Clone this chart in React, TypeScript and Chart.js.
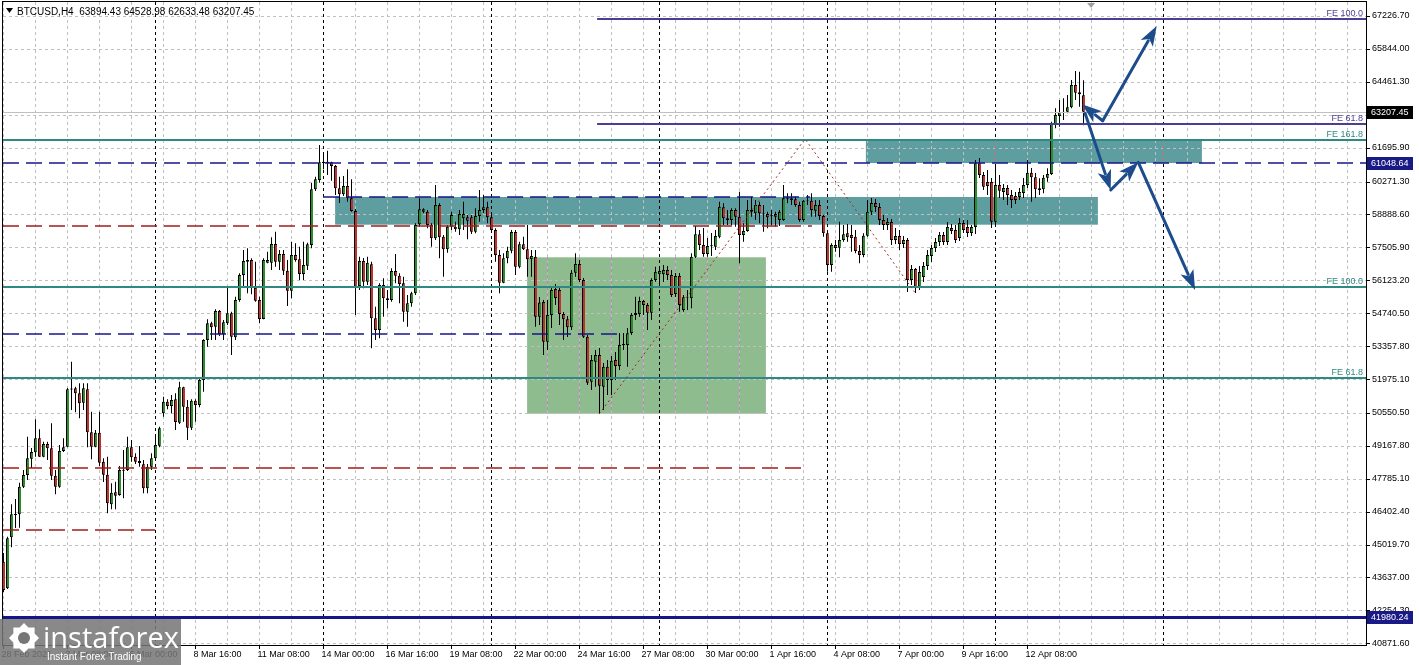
import React, { useEffect, useRef } from 'react';
import { Chart, registerables } from 'chart.js';
Chart.register(...registerables);

// ---------- candle data (BTCUSD, H4; bar 0 = 28 Feb 16:00) ----------
const opens = [
44300,43183,45325,46262,46292,47451,47943,48628,48897,49485,48712,49245,49065,47913,47451,48951,49132,51568,51585,51375,
50980,51543,49737,49132,49720,48502,47955,46712,47216,47103,48132,48153,49107,48712,48531,48392,47384,48291,48644,49174,
50535,51022,50842,51123,50140,51627,50812,49930,51064,50884,51934,53615,54316,54173,54833,53854,54316,54736,53728,55295,
56345,56976,56976,55812,55295,54497,56862,56862,57648,56904,57228,56526,55686,57186,57005,56387,56736,57606,59946,60337,
61106,61106,61080,60925,59988,59736,60085,59568,59034,55883,56934,56064,56795,54526,54035,55925,55367,55295,56514,56316,
55997,54804,55157,55577,58476,59106,59005,58446,57887,59286,57955,57425,58375,58265,58265,58728,58770,58770,58165,58824,
59076,59190,58770,58236,57186,56022,57047,57366,58152,56694,57635,57425,57005,57114,54594,55211,53543,54665,55757,55715,
54707,54484,54148,56442,56808,56135,53753,51863,52703,52984,51653,52493,51934,52774,52522,53404,53404,53909,54665,54707,
55253,55085,54761,56135,56375,56375,56556,56345,55547,56303,54875,55409,55367,57114,58055,57606,57228,57564,57534,57955,
59190,58728,58656,59076,58795,58026,58194,59005,58938,59286,58938,58908,58866,58908,58656,58656,59568,59568,59526,59286,
58656,59467,59467,59047,59286,58824,58097,56766,57606,57493,57816,58097,58026,57955,57354,57186,57996,59005,59370,59202,
58656,58446,58572,57816,57984,57648,57816,56135,56597,55854,56261,56724,57144,57480,57732,58026,57732,58320,58236,57900,
58530,58362,58110,58362,61038,60547,60253,60253,58585,60127,59832,60001,59707,59665,59622,59790,60127,60643,60450,59988,
59946,60433,60589,62689,63026,63164,63206,63391,64328,64021,63894.43];
const highs = [
44666,45351,46712,46934,47619,48153,49552,49077,50283,49863,49342,49342,50115,48153,49203,49485,51598,52703,51653,51795,
51795,51795,50602,49833,50602,48644,48712,47594,47661,48321,48993,49552,49413,48854,49161,48573,48405,48854,49665,49972,
51232,51123,51304,51375,51863,51653,51094,51123,51123,52005,53644,54484,54383,54904,54875,54455,55829,54804,55434,56417,
57396,57467,57047,56904,55434,57047,57324,57929,58165,57396,57396,56976,57745,57677,57534,57745,57702,60211,60475,61807,
61458,61568,61106,60967,60475,60505,60786,60366,59118,57114,57060,57114,56904,55014,55997,56207,55715,56627,57228,56417,
56274,55505,55644,58518,59568,59148,59076,58518,60127,59358,58026,58446,59005,58585,59076,59425,58866,58866,59148,59917,
59707,59425,58866,58307,57396,57257,57534,58236,58236,57745,57955,58446,57396,57396,55421,55295,55295,55854,55967,55883,
54791,54623,56556,57257,56976,56219,53825,52984,53194,53278,52648,52774,52942,53110,53909,53909,54119,54749,55434,55434,
55295,55169,56207,56694,56694,56766,56724,56556,56430,56430,55505,55715,57257,58404,58236,58320,57900,58110,58236,59425,
59358,59076,59148,59148,59845,58518,59497,59635,59497,59425,59286,59005,59076,59005,59076,60127,59778,59778,59635,59425,
59497,59707,59778,59497,59497,58866,58165,57677,57816,58585,58446,58488,58446,58236,57606,58097,59497,59580,59538,59370,
58866,58740,58698,58320,58236,57984,57900,56766,56640,56724,56892,57396,57606,57900,58152,58152,58572,58488,58446,58740,
58656,58656,58446,61177,61261,60673,60757,60421,60967,60547,60169,60127,59917,59832,60001,60421,61177,60841,60631,60408,
60547,60828,62786,63349,63698,63769,63908,64538,64916,64887,64528.98];
const lows = [
43027,43153,44905,45716,45729,47397,47733,48237,48712,48699,48686,48573,47733,47132,47409,48909,49107,50674,50577,50325,
50674,49107,48602,49107,48321,47649,46334,46502,46502,47073,46964,48111,48502,48405,48291,47174,47174,48153,48573,49107,
50392,50703,50535,49833,50085,50182,49413,49833,50182,50787,51443,53333,53615,53615,53783,53615,54245,52984,53615,55224,
55829,55577,55535,55224,54316,54484,56837,56556,56694,56556,56345,55043,55367,56904,56135,56135,56556,57467,59874,60223,
60786,60547,60307,59707,59370,59665,59425,59005,54665,55715,55787,55925,53266,53615,53686,54594,54946,55224,55997,55157,
54383,54173,55014,55505,58375,58938,58307,57534,57816,57047,56274,57282,58236,58165,58026,58236,57845,58068,58097,58585,
58938,58518,58207,56904,55577,55997,56837,57257,56345,56627,57396,56274,56274,54173,54245,52984,53194,54119,55085,54245,
53615,53741,54035,56274,56051,53699,51724,51514,51653,50506,50674,51304,51304,51934,52354,53194,52493,53825,54455,54594,
54665,54035,54455,56064,55925,56051,56135,55421,55421,54804,54804,54875,54946,57060,57396,57114,57114,57144,57396,57887,
58446,58446,58446,58375,56837,57745,58165,58795,58656,58518,58165,58307,58446,58375,58404,58627,59358,59286,59215,58585,
58585,59286,58795,58795,58656,57955,56484,56484,57324,57089,57745,57745,57324,57257,56837,57089,57955,58866,58992,58446,
58236,58236,57606,57648,57396,57480,55631,55925,55589,55715,56051,56556,56892,57312,57564,57606,57606,58068,57690,57774,
58110,57942,57984,58068,60421,59917,59707,58320,58446,59580,59497,59286,59160,59328,59497,59580,60001,59425,59580,59707,
59778,60265,60547,62509,62576,62857,63139,63349,63698,63416,62633.48];
const closes = [
43111,45283,46292,46304,47451,47943,48644,48909,49485,48712,49245,49065,47913,47451,48951,49107,51543,51543,51375,50955,
51585,49737,49132,49720,48460,47955,46754,47199,47073,48153,48153,49107,48686,48502,48447,47384,48291,48644,49203,49905,
51022,50842,51094,50169,51627,50812,49930,51064,50884,51934,53615,54316,54148,54833,53854,54358,54736,53753,55295,56345,
56934,56904,55812,55266,54497,56976,56976,57648,56904,57228,56526,55686,57186,56976,56387,56766,57635,59946,60366,61080,
61038,61038,60925,59988,59736,60085,59568,59034,55854,56934,56064,56862,54526,54035,55925,55367,55295,56514,56316,55967,
54804,55157,55577,58446,59106,59005,58446,57887,59286,57929,57425,58375,58866,58375,58908,58908,58627,58165,58824,59076,
59190,58770,58236,57186,56022,57047,57366,58152,56694,57635,57425,57005,57144,54594,55190,53543,54665,55715,55379,54707,
54484,54148,56442,56808,56135,53753,51821,52774,52984,51695,52493,51934,52745,52522,53404,53446,53896,54665,54749,55253,
55085,54761,56135,56484,56514,56556,56345,55505,56303,55085,55409,55421,57114,58055,57606,57228,57564,57585,57984,59215,
58728,58656,59076,58795,58026,58194,59076,59076,59286,58938,58950,58770,58845,58795,59005,59568,59538,59497,59286,58656,
59467,59454,59076,59286,58824,58097,56766,57606,57480,57816,58055,57929,57900,57354,57186,57996,59005,59370,59202,58656,
58446,58572,57816,57984,57648,57816,56135,56597,55854,56471,56724,57186,57480,57732,58026,57732,58362,58194,57816,58530,
58236,58110,58362,61038,60547,60055,60085,58585,60127,59887,60001,59707,59497,59497,59832,60127,60643,60450,59946,59917,
60433,60589,62689,63068,63181,63206,63391,64328,64004,63937,63207.45];

// ---------- axes ----------
const xLabelBars = [0, 16, 32, 48, 64, 80, 96, 112, 128, 144, 160, 176, 192, 208, 224, 240, 256];
const xLabels = ['28 Feb 2021', '3 Mar 08:00', '6 Mar 00:00', '8 Mar 16:00', '11 Mar 08:00', '14 Mar 00:00', '16 Mar 16:00',
  '19 Mar 08:00', '22 Mar 00:00', '24 Mar 16:00', '27 Mar 08:00', '30 Mar 00:00', '1 Apr 16:00', '4 Apr 08:00',
  '7 Apr 00:00', '9 Apr 16:00', '12 Apr 08:00'];
const yTickValues = [67226.7, 65844.0, 64461.3, 63078.6, 61695.9, 60271.3, 58888.6, 57505.9, 56123.2, 54740.5, 53357.8,
  51975.1, 50550.5, 49167.8, 47785.1, 46402.4, 45019.7, 43637.0, 42254.3, 40871.6];
const weekStartBars = [38, 80, 122, 164, 206, 248, 290];
const gridBarStep = 8;

// ---------- drawn objects (bar index / price) ----------
const purpleFe = [{ label: 'FE 100.0', price: 67113 }, { label: 'FE 61.8', price: 62689 }];
const purpleFeFromBar = 148.4;
const tealFe = [{ label: 'FE 161.8', price: 62017 }, { label: 'FE 100.0', price: 55854 }, { label: 'FE 61.8', price: 52031 }];
const navyDashed = [{ price: 61048.64, from: -2, to: 345 }, { price: 59643, from: 79.9, to: 201.6 }, { price: 53846, from: -2, to: 154.1 }];
const redDashed = [{ price: 58391, from: -2, to: 202.1 }, { price: 48224, from: -2, to: 199.6 }, { price: 45619, from: -2, to: 37.9 }];
const supportPrice = 41980.24;
const bidPrice = 63207.45;
const tealZones = [{ from: 82.9, to: 273.6, top: 59622, bottom: 58459 }, { from: 215.6, to: 299.6, top: 62017, bottom: 61048.64 }];
const greenZone = { from: 130.9, to: 190.6, top: 57089, bottom: 50518 };
const fibPoints = [{ bar: 148.9, price: 50505 }, { bar: 200.4, price: 62059 }, { bar: 228.1, price: 55547 }];
const scenarioArrows = [
  [{ bar: 274.8, price: 62828 }, { bar: 269.6, price: 63517 }],
  [{ bar: 274.8, price: 62828 }, { bar: 288.3, price: 66807 }],
  [{ bar: 270.4, price: 63139 }, { bar: 276.8, price: 59916 }],
  [{ bar: 276.8, price: 59916 }, { bar: 283.7, price: 61080 }],
  [{ bar: 283.7, price: 61080 }, { bar: 297.9, price: 55715 }],
];
const shiftMarkerBar = 271.9;

const FONT = "'Liberation Sans', Arial, sans-serif";
const BULL = '#2b8c2b';
const BEAR = '#c2302b';
const TEAL = '#2f8983';
const PURPLE = '#4a3f94';
const NAVY = '#16168a';
const DRED = '#a31c1c';
const ARROW = '#1c4c8c';

function drawArrow(ctx: CanvasRenderingContext2D, x1: number, y1: number, x2: number, y2: number) {
  const ang = Math.atan2(y2 - y1, x2 - x1);
  const hl = 20, hw = 7;
  const bx = x2 - hl * Math.cos(ang), by = y2 - hl * Math.sin(ang);
  ctx.beginPath();
  ctx.moveTo(x1, y1);
  ctx.lineTo(bx + 3 * Math.cos(ang), by + 3 * Math.sin(ang));
  ctx.stroke();
  ctx.beginPath();
  ctx.moveTo(x2, y2);
  ctx.lineTo(bx + hw * Math.sin(ang), by - hw * Math.cos(ang));
  ctx.lineTo(bx + 5 * Math.cos(ang), by + 5 * Math.sin(ang));
  ctx.lineTo(bx - hw * Math.sin(ang), by + hw * Math.cos(ang));
  ctx.closePath();
  ctx.fill();
}

const zeroPad = (s: any) => { s.paddingTop = 0; s.paddingBottom = 0; s.paddingLeft = 0; s.paddingRight = 0; };

const mt4Plugin = {
  id: 'mt4',
  beforeDatasetsDraw(chart: any) {
    const { ctx, chartArea: a, scales } = chart;
    const x = scales.x, y = scales.y;
    ctx.save();
    ctx.beginPath();
    ctx.rect(a.left, a.top, a.right - a.left, a.bottom - a.top);
    ctx.clip();
    ctx.fillStyle = '#5f9ea0';
    tealZones.forEach(z => {
      const x1 = x.getPixelForValue(z.from), x2 = x.getPixelForValue(z.to);
      const y1 = y.getPixelForValue(z.top), y2 = y.getPixelForValue(z.bottom);
      ctx.fillRect(x1, y1, x2 - x1, y2 - y1);
    });
    const gx1 = x.getPixelForValue(greenZone.from), gx2 = x.getPixelForValue(greenZone.to);
    const gy1 = y.getPixelForValue(greenZone.top), gy2 = y.getPixelForValue(greenZone.bottom);
    ctx.fillStyle = '#8fbc8f';
    ctx.fillRect(gx1, gy1, gx2 - gx1, gy2 - gy1);
    ctx.lineWidth = 1;
    ctx.setLineDash([3, 3]);
    ctx.strokeStyle = '#c0c0c0';
    for (let b = 0; b <= x.max; b += gridBarStep) {
      const px = Math.floor(x.getPixelForValue(b)) + 0.5;
      ctx.beginPath(); ctx.moveTo(px, a.top); ctx.lineTo(px, a.bottom); ctx.stroke();
    }
    yTickValues.forEach(v => {
      const py = Math.round(y.getPixelForValue(v)) + 0.5;
      ctx.beginPath(); ctx.moveTo(a.left, py); ctx.lineTo(a.right, py); ctx.stroke();
    });
    ctx.strokeStyle = '#c57ec5';
    for (let b = 0; b <= x.max; b += gridBarStep) {
      const px = Math.floor(x.getPixelForValue(b)) + 0.5;
      if (px > gx1 && px < gx2) { ctx.beginPath(); ctx.moveTo(px, gy1); ctx.lineTo(px, gy2); ctx.stroke(); }
    }
    ctx.strokeStyle = '#000';
    weekStartBars.forEach(b => {
      const px = Math.floor(x.getPixelForValue(b)) + 0.5;
      ctx.beginPath(); ctx.moveTo(px, a.top); ctx.lineTo(px, a.bottom); ctx.stroke();
    });
    ctx.strokeStyle = '#e06a6a';
    const tz = tealZones[1];
    const ty1 = y.getPixelForValue(tz.top), ty2 = y.getPixelForValue(tz.bottom);
    weekStartBars.forEach(b => {
      if (b > tz.from && b < tz.to) {
        const px = Math.floor(x.getPixelForValue(b)) + 0.5;
        ctx.beginPath(); ctx.moveTo(px, ty1); ctx.lineTo(px, ty2); ctx.stroke();
      }
    });
    ctx.restore();
  },
  afterDraw(chart: any) {
    const { ctx, chartArea: a, scales } = chart;
    const x = scales.x, y = scales.y;
    const hline = (price: number, from: number, to: number, color: string, width: number, dash: number[]) => {
      const py = y.getPixelForValue(price);
      const yy = width % 2 === 1 ? Math.round(py) + 0.5 : Math.round(py);
      ctx.strokeStyle = color; ctx.lineWidth = width; ctx.setLineDash(dash);
      ctx.beginPath();
      ctx.moveTo(Math.max(a.left, x.getPixelForValue(from)), yy);
      ctx.lineTo(Math.min(a.right, x.getPixelForValue(to)), yy);
      ctx.stroke();
    };
    ctx.save();
    ctx.beginPath();
    ctx.rect(a.left, a.top, a.right - a.left, a.bottom - a.top);
    ctx.clip();
    hline(bidPrice, -2, 400, '#c0c0c0', 1, []);
    navyDashed.forEach(l => hline(l.price, l.from, l.to, NAVY, 1.5, [16, 7]));
    redDashed.forEach(l => hline(l.price, l.from, l.to, DRED, 1.5, [16, 7]));
    tealFe.forEach(l => hline(l.price, -2, 400, TEAL, 2, []));
    purpleFe.forEach(l => hline(l.price, purpleFeFromBar, 400, PURPLE, 2, []));
    hline(supportPrice, -2, 400, NAVY, 3, []);
    ctx.strokeStyle = '#a52a2a'; ctx.lineWidth = 1; ctx.setLineDash([2, 3]);
    ctx.beginPath();
    fibPoints.forEach((p, i) => {
      const px = x.getPixelForValue(p.bar), py = y.getPixelForValue(p.price);
      if (i === 0) ctx.moveTo(px, py); else ctx.lineTo(px, py);
    });
    ctx.stroke();
    ctx.setLineDash([]);
    ctx.strokeStyle = ARROW; ctx.fillStyle = ARROW; ctx.lineWidth = 3; ctx.lineCap = 'round';
    scenarioArrows.forEach(([p, q]) => {
      drawArrow(ctx, x.getPixelForValue(p.bar), y.getPixelForValue(p.price), x.getPixelForValue(q.bar), y.getPixelForValue(q.price));
    });
    ctx.lineCap = 'butt';
    ctx.font = `9px ${FONT}`;
    ctx.textAlign = 'right';
    ctx.textBaseline = 'alphabetic';
    tealFe.forEach(l => { ctx.fillStyle = TEAL; ctx.fillText(l.label, a.right - 3, Math.round(y.getPixelForValue(l.price)) - 3); });
    purpleFe.forEach(l => { ctx.fillStyle = PURPLE; ctx.fillText(l.label, a.right - 3, Math.round(y.getPixelForValue(l.price)) - 3); });
    const last = closes.length - 1;
    ctx.fillStyle = '#000';
    ctx.beginPath(); ctx.moveTo(6, 8); ctx.lineTo(13, 8); ctx.lineTo(9.5, 13); ctx.closePath(); ctx.fill();
    ctx.textAlign = 'left';
    ctx.font = `10px ${FONT}`;
    ctx.fillText(`BTCUSD,H4  ${opens[last].toFixed(2)} ${highs[last].toFixed(2)} ${lows[last].toFixed(2)} ${closes[last].toFixed(2)}`, 17, 15);
    const sx = x.getPixelForValue(shiftMarkerBar);
    ctx.fillStyle = '#a0a0a0';
    ctx.beginPath(); ctx.moveTo(sx - 4, a.top + 1); ctx.lineTo(sx + 4, a.top + 1); ctx.lineTo(sx, a.top + 6); ctx.closePath(); ctx.fill();
    ctx.restore();

    ctx.save();
    ctx.strokeStyle = '#000'; ctx.lineWidth = 1; ctx.setLineDash([]);
    ctx.strokeRect(a.left - 0.5, a.top - 0.5, a.right - a.left + 1, a.bottom - a.top + 1);
    yTickValues.forEach(v => {
      const py = Math.round(y.getPixelForValue(v)) + 0.5;
      ctx.beginPath(); ctx.moveTo(a.right, py); ctx.lineTo(a.right + 4, py); ctx.stroke();
    });
    xLabelBars.forEach(b => {
      const px = Math.floor(x.getPixelForValue(b)) + 0.5;
      ctx.beginPath(); ctx.moveTo(px, a.bottom); ctx.lineTo(px, a.bottom + 4); ctx.stroke();
    });
    const tag = (price: number, bg: string) => {
      const py = Math.round(y.getPixelForValue(price));
      ctx.fillStyle = bg;
      ctx.fillRect(a.right + 1, py - 6, 46, 13);
      ctx.fillStyle = '#fff';
      ctx.font = `9px ${FONT}`;
      ctx.textAlign = 'left'; ctx.textBaseline = 'middle';
      ctx.fillText(price.toFixed(2), a.right + 5, py + 0.5);
    };
    tag(bidPrice, '#000');
    tag(navyDashed[0].price, '#1a1a86');
    tag(supportPrice, '#1a1a86');
    ctx.fillStyle = 'rgba(118,118,118,0.86)';
    ctx.fillRect(0, 619, 181, 46);
    ctx.fillStyle = '#fff';
    const cx = 24, cy = 638;
    ctx.beginPath();
    for (let k = 0; k < 16; k++) {
      const r = k % 2 === 0 ? 15 : 11.5;
      const an = (k / 16) * Math.PI * 2;
      const px = cx + r * Math.cos(an), py = cy + r * Math.sin(an);
      if (k === 0) ctx.moveTo(px, py); else ctx.lineTo(px, py);
    }
    ctx.closePath(); ctx.fill();
    ctx.fillStyle = 'rgba(118,118,118,1)';
    ctx.beginPath(); ctx.arc(cx, cy, 6, 0, Math.PI * 2); ctx.fill();
    ctx.fillStyle = '#fff';
    ctx.textAlign = 'left'; ctx.textBaseline = 'alphabetic';
    ctx.font = "29px 'Open Sans', sans-serif";
    ctx.fillText('instaforex', 43, 648);
    ctx.font = `10px ${FONT}`;
    ctx.fillText('Instant Forex Trading', 47, 660);
    ctx.restore();
  },
};

export default function App() {
  const ref = useRef<HTMLCanvasElement>(null);
  useEffect(() => {
    document.body.style.margin = '0';
    document.body.style.overflow = 'hidden';
    const canvas = ref.current;
    if (!canvas) return;
    const n = closes.length;
    const idx = Array.from({ length: n }, (_, i) => i);
    const bodies = idx.map(i => {
      let lo = Math.min(opens[i], closes[i]);
      let hi = Math.max(opens[i], closes[i]);
      if (hi - lo < 40) { const m = (hi + lo) / 2; lo = m - 20; hi = m + 20; }
      return { x: i, y: [lo, hi] };
    });
    const wicks = idx.map(i => ({ x: i, y: [Math.min(lows[i], opens[i], closes[i]), Math.max(highs[i], opens[i], closes[i])] }));
    const colors = idx.map(i => (closes[i] >= opens[i] ? BULL : BEAR));
    const chart = new Chart(canvas, {
      type: 'bar',
      data: {
        datasets: [
          {
            label: 'body', data: bodies as any, backgroundColor: colors, borderColor: '#000',
            borderWidth: { left: 1, right: 0, top: 1, bottom: 1 } as any, borderSkipped: false,
            barPercentage: 0.75, categoryPercentage: 1, maxBarThickness: 3, inflateAmount: 0,
          } as any,
          {
            label: 'wick', data: wicks as any, backgroundColor: '#000', borderWidth: 0,
            barPercentage: 1, categoryPercentage: 1, maxBarThickness: 1, inflateAmount: 0,
          } as any,
        ],
      },
      options: {
        animation: false,
        responsive: false,
        maintainAspectRatio: false,
        devicePixelRatio: 1,
        layout: { autoPadding: false, padding: { left: 3, top: 2, right: 0, bottom: 0 } } as any,
        datasets: { bar: { grouped: false } } as any,
        plugins: { legend: { display: false }, tooltip: { enabled: false }, title: { display: false } },
        scales: {
          x: {
            type: 'linear', min: -0.125, max: 340.625, offset: false,
            grid: { display: false, drawTicks: false }, border: { display: false },
            afterBuildTicks: (s: any) => { s.ticks = xLabelBars.map(v => ({ value: v })); },
            afterFit: (s: any) => { s.height = 20; zeroPad(s); },
            ticks: {
              autoSkip: false, maxRotation: 0, minRotation: 0, align: 'start', padding: 4, labelOffset: -2,
              color: '#000', font: { family: FONT, size: 9 },
              callback: (v: any) => { const k = xLabelBars.indexOf(Number(v)); return k >= 0 ? xLabels[k] : ''; },
            },
          },
          y: {
            type: 'linear', position: 'right', min: 40800.6, max: 67815, beginAtZero: false,
            grid: { display: false, drawTicks: false }, border: { display: false },
            afterBuildTicks: (s: any) => { s.ticks = yTickValues.map(v => ({ value: v })); },
            afterFit: (s: any) => { s.width = 53; zeroPad(s); },
            ticks: {
              autoSkip: false, padding: 6, color: '#000', font: { family: FONT, size: 9 },
              callback: (v: any) => Number(v).toFixed(2),
            },
          },
        } as any,
      },
      plugins: [mt4Plugin],
    });
    return () => chart.destroy();
  }, []);
  return (
    <div style={{ width: 1419, height: 665, background: '#fff' }}>
      <canvas ref={ref} width={1419} height={665} style={{ display: 'block', width: 1419, height: 665 }} />
    </div>
  );
}
